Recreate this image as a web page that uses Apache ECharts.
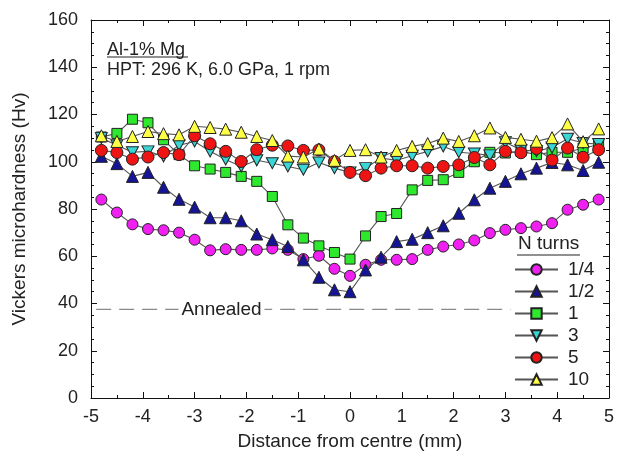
<!DOCTYPE html>
<html>
<head>
<meta charset="utf-8">
<script src="https://cdn.jsdelivr.net/npm/echarts@6/dist/echarts.min.js"></script>
<style>
html,body{margin:0;padding:0;background:#fff;}
#chart{width:619px;height:458px;}
</style>
</head>
<body>
<div id="chart"></div>
<script>
// Distance from centre (mm)
const distance = [-4.8,-4.5,-4.2,-3.9,-3.6,-3.3,-3.0,-2.7,-2.4,-2.1,-1.8,-1.5,-1.2,-0.9,-0.6,-0.3,0,
  0.3,0.6,0.9,1.2,1.5,1.8,2.1,2.4,2.7,3.0,3.3,3.6,3.9,4.2,4.5,4.8];
const seriesNames = ['1/4','1/2','1','3','5','10'];
const hvQuarter = [84,78.5,73.5,71.5,71,70,67,62.5,63,62.7,62.7,63.3,62.7,58.8,60.2,54.7,51.7,
  56.4,58.5,58.5,58.8,62.7,64.1,65,66.7,69.8,71.2,71.9,72.6,74,79.7,81.8,84];
const hvHalf = [102.3,99.2,93.8,95.5,89.2,84.1,80.8,76.3,76.3,75,69.4,67,64.1,58.5,51.1,45.8,45,
  54.2,59.6,66.2,67.2,70,72.9,78.2,83.9,88.8,91.7,94.9,97.3,99.7,98.7,96.3,99.8];
const hvOne = [110.5,112,118,116.5,109.3,103,98.3,96.9,95.5,93.8,91.7,85.3,73.3,67.7,64.4,61.6,58.8,
  68.6,76.8,78.1,88.1,92.1,92.4,95.5,100,104,103.7,104.4,103,104,104,105.8,107.2];
const hvThree = [110,107,104,104.4,102.3,107,108.6,104.4,101,98,100.6,99.4,98,96.6,99.7,97.3,95.5,
  97.3,101.6,100.6,102.5,104.4,106.5,104,103.5,102.7,108.3,105,104.5,106,109.7,107.9,107.5];
const hvFive = [104.8,103.9,101.1,102,103.9,103,111,107.6,104.4,100.1,105.1,107,106.7,104.8,105,100.1,95.5,
  94.1,97.3,98.3,98.3,97.3,98,98.7,101.8,98.7,104.4,103.8,105.6,100.7,105.8,101.9,105.1];
const hvTen = [111,108.6,110.7,112.8,111.9,111.4,115,114.5,113.8,112.5,110.7,109,102.4,102,105.4,100.6,104.8,
  105.1,102,104.8,106.5,107.7,110,108.6,111,114.3,110.3,109.5,108.7,110.2,116,108.5,113.9];
const annealedX = [-4.9, 3.1];
const annealedHv = 37.5;
const xTicks = [-5,-4,-3,-2,-1,0,1,2,3,4,5];
const yTicks = [0,20,40,60,80,100,120,140,160];

const FONT = '"Liberation Sans", Arial, sans-serif';
const styles = [
  {symbol:'circle', size:11, color:'#f020f0'},
  {symbol:'triangle', size:12, color:'#141494'},
  {symbol:'rect', size:10, color:'#2ee82e'},
  {symbol:'path://M0,0 L10,0 L5,9 Z', size:[12,11], color:'#3ad6d6'},
  {symbol:'circle', size:12, color:'#ee1414'},
  {symbol:'triangle', size:12, color:'#ffff44'}
];
const allValues = [hvQuarter, hvHalf, hvOne, hvThree, hvFive, hvTen];

const series = allValues.map((vals, i) => ({
  name: seriesNames[i],
  type: 'line',
  data: distance.map((d, j) => [d, vals[j]]),
  symbol: styles[i].symbol,
  symbolSize: styles[i].size,
  showAllSymbol: true,
  lineStyle: {color:'#555', width:1.1},
  itemStyle: {color: styles[i].color, borderColor:'#222', borderWidth:1},
  emphasis: {disabled:true},
  animation: false,
  z: 3 + i
}));

series.push({
  name: 'Annealed',
  type: 'line',
  data: annealedX.map(x => [x, annealedHv]),
  symbol: 'none',
  silent: true,
  lineStyle: {color:'#8a8a8a', width:1.3, type:[15,8]},
  animation: false,
  z: 2,
  markPoint: {
    silent: true,
    symbol: 'rect',
    symbolSize: [86, 22],
    itemStyle: {color:'#fff'},
    label: {show:true, formatter:'Annealed', color:'#222', fontSize:19, fontFamily:FONT},
    data: [{coord:[-2.48, annealedHv]}]
  }
});

const chart = echarts.init(document.getElementById('chart'), null, {renderer:'canvas'});
const axisCommon = {
  axisLine:{show:true, onZero:false, lineStyle:{color:'#111', width:1}},
  splitLine:{show:false}
};
chart.setOption({
  animation: false,
  backgroundColor: '#fff',
  grid: {left:91, right:10, top:20, bottom:60},
  xAxis: [{
    ...axisCommon,
    type:'value', min:xTicks[0], max:xTicks[xTicks.length-1], interval:1,
    axisTick:{inside:true, length:6, lineStyle:{color:'#111'}},
    minorTick:{show:true, splitNumber:2, length:3, lineStyle:{color:'#111'}},
    axisLabel:{color:'#222', fontSize:18, fontFamily:FONT, margin:10},
    name:'Distance from centre (mm)', nameLocation:'middle', nameGap:34,
    nameTextStyle:{color:'#222', fontSize:19, fontFamily:FONT}
  },{
    ...axisCommon,
    type:'value', position:'top', min:xTicks[0], max:xTicks[xTicks.length-1], interval:1,
    axisTick:{inside:true, length:6, lineStyle:{color:'#111'}},
    minorTick:{show:true, splitNumber:2, length:3, lineStyle:{color:'#111'}},
    axisLabel:{show:false}
  }],
  yAxis: [{
    ...axisCommon,
    type:'value', min:yTicks[0], max:yTicks[yTicks.length-1], interval:20,
    axisTick:{inside:true, length:6, lineStyle:{color:'#111'}},
    minorTick:{show:true, splitNumber:4, length:3, lineStyle:{color:'#111'}},
    axisLabel:{color:'#222', fontSize:18, fontFamily:FONT, margin:13},
    name:'Vickers microhardness (Hv)', nameLocation:'middle', nameGap:62,
    nameTextStyle:{color:'#222', fontSize:19, fontFamily:FONT}
  },{
    ...axisCommon,
    type:'value', position:'right', min:yTicks[0], max:yTicks[yTicks.length-1], interval:20,
    axisTick:{inside:true, length:6, lineStyle:{color:'#111'}},
    minorTick:{show:true, splitNumber:4, length:3, lineStyle:{color:'#111'}},
    axisLabel:{show:false}
  }],
  legend: {
    data: seriesNames,
    orient:'vertical', left:514, top:260,
    itemWidth:43, itemHeight:13, itemGap:3,
    backgroundColor:'#fff',
    padding:[0,0,0,0],
    textStyle:{color:'#222', fontSize:19, fontFamily:FONT, padding:[0,0,0,5]},
    selectedMode:false
  },
  graphic: [
    {type:'text', left:107, top:41, style:{text:'Al-1% Mg', fill:'#222', font:'18px "Liberation Sans", Arial, sans-serif'}},
    {type:'line', shape:{x1:107, y1:57, x2:188, y2:57}, style:{stroke:'#222', lineWidth:1}},
    {type:'text', left:107, top:61, style:{text:'HPT: 296 K, 6.0 GPa, 1 rpm', fill:'#222', font:'18px "Liberation Sans", Arial, sans-serif'}},
    {type:'text', left:518, top:234, style:{text:'N turns', fill:'#222', font:'19px "Liberation Sans", Arial, sans-serif'}},
    {type:'line', shape:{x1:517, y1:255, x2:580, y2:255}, style:{stroke:'#222', lineWidth:1.2}}
  ],
  series: series
});
</script>
</body>
</html>
